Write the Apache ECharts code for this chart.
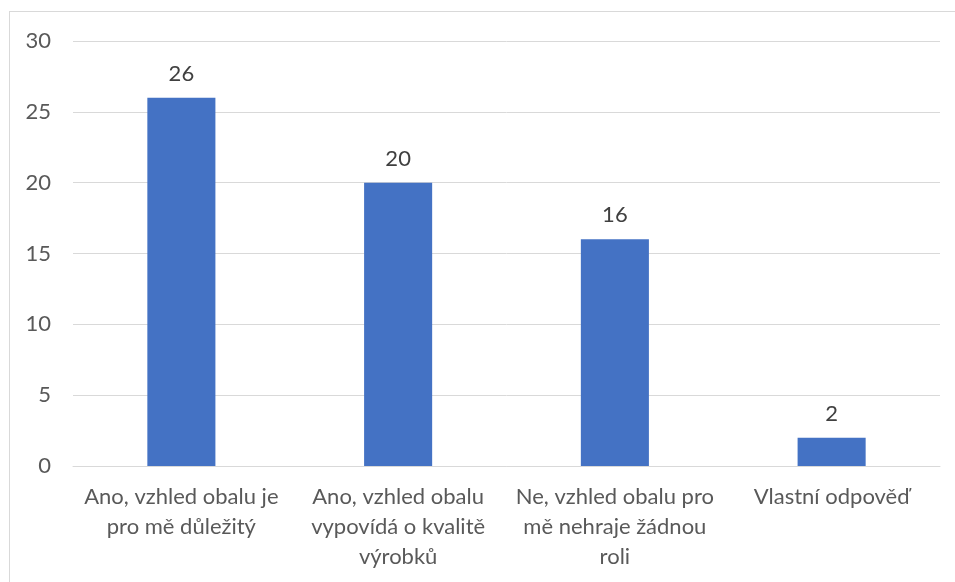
<!DOCTYPE html>
<html>
<head>
<meta charset="utf-8">
<script src="https://cdn.jsdelivr.net/npm/echarts@6/dist/echarts.min.js"></script>
<style>
  html, body { margin: 0; padding: 0; background: #fff; }
  #frame { position: absolute; left: 9px; top: 11px; width: 960px; height: 600px; border: 1px solid #d9d9d9; box-sizing: border-box; }
  #chart { position: absolute; left: 0; top: 0; width: 955px; height: 582px; }
</style>
</head>
<body>
<div id="frame"></div>
<div id="chart"></div>
<script>
const categories = [
  'Ano, vzhled obalu je\npro mě důležitý',
  'Ano, vzhled obalu\nvypovídá o kvalitě\nvýrobků',
  'Ne, vzhled obalu pro\nmě nehraje žádnou\nroli',
  'Vlastní odpověď'
];
const counts = [26, 20, 16, 2];
const yTicks = { min: 0, max: 30, interval: 5 };

const font = 'Lato, "Open Sans", "Noto Sans", sans-serif';
const chart = echarts.init(document.getElementById('chart'), null, { renderer: 'canvas' });
chart.setOption({
  animation: false,
  grid: { left: 73, right: 15, top: 41, bottom: 116, containLabel: false },
  xAxis: {
    type: 'category',
    data: categories,
    axisLine: { show: true, lineStyle: { color: '#d9d9d9', width: 1 } },
    axisTick: { show: false },
    axisLabel: {
      color: '#595959', fontFamily: font, fontSize: 22, lineHeight: 30,
      margin: 16, interval: 0, align: 'center'
    }
  },
  yAxis: {
    type: 'value',
    min: yTicks.min, max: yTicks.max, interval: yTicks.interval,
    axisLine: { show: false },
    axisTick: { show: false },
    splitLine: { lineStyle: { color: '#d9d9d9', width: 1 } },
    axisLabel: { color: '#595959', fontFamily: font, fontSize: 22, margin: 22 }
  },
  series: [{
    type: 'bar',
    data: counts,
    barWidth: '31.4%',
    itemStyle: { color: '#4472c4' },
    label: {
      show: true, position: 'top', distance: 13,
      color: '#404040', fontFamily: font, fontSize: 22
    }
  }]
});
</script>
</body>
</html>
